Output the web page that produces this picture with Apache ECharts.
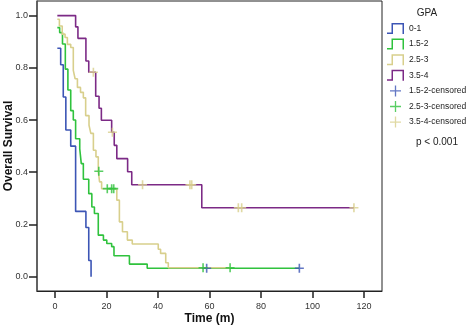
<!DOCTYPE html>
<html>
<head>
<meta charset="utf-8">
<script src="https://cdn.jsdelivr.net/npm/echarts@6/dist/echarts.min.js"></script>
<style>
html,body{margin:0;padding:0;background:#fff;}
#km{width:471px;height:328px;}
</style>
</head>
<body>
<div id="km"></div>
<script>
// survival steps per GPA group (time in months, survival after the step)
var t01 = [0.9, 2.2, 3.2, 4.2, 6.1, 8.0, 12.0, 13.1, 14.0];
var s01 = [0.875, 0.812, 0.688, 0.562, 0.5, 0.25, 0.188, 0.062, 0];

var t152 = [0.9, 1.8, 2.9, 4.0, 5.0, 6.1, 7.1, 8.0, 9.6, 10.2, 11.0, 13.1, 14.3, 15.3, 16.8, 18.8, 20.1, 22.0, 22.9, 28.9, 35.8];
var s152 = [0.954, 0.935, 0.891, 0.795, 0.715, 0.636, 0.600, 0.528, 0.490, 0.433, 0.373, 0.318, 0.267, 0.242, 0.159, 0.140, 0.127, 0.115, 0.080, 0.048, 0.032];

var t253 = [0.9, 1.7, 2.8, 3.9, 4.8, 6.1, 7.1, 7.8, 8.7, 9.9, 11.0, 11.9, 13.2, 13.9, 14.9, 15.9, 16.8, 17.3, 18.1, 24.0, 25.0, 26.2, 28.1, 30.0, 40.1, 41.0, 43.0, 44.0];
var s253 = [0.986, 0.960, 0.929, 0.916, 0.890, 0.878, 0.790, 0.758, 0.725, 0.706, 0.685, 0.617, 0.580, 0.549, 0.484, 0.459, 0.404, 0.363, 0.337, 0.293, 0.210, 0.172, 0.140, 0.125, 0.105, 0.089, 0.053, 0.034];

var t354 = [0.9, 8.0, 8.9, 12.0, 13.1, 15.8, 17.1, 18.0, 22.0, 23.0, 24.0, 28.2, 29.8, 57.0];
var s354 = [1.0, 0.957, 0.913, 0.826, 0.783, 0.691, 0.645, 0.599, 0.553, 0.503, 0.452, 0.402, 0.352, 0.264];

// censored times
var c152 = [58.9, 94.9];
var c253 = [17.0, 20.3, 22.0, 22.8, 57.5, 68.0];
var c354 = [14.9, 22.3, 34.0, 52.4, 53.1, 71.2, 72.5, 116.1];

var xTicks = [0, 20, 40, 60, 80, 100, 120];
var yTicks = [0, 0.2, 0.4, 0.6, 0.8, 1.0];

var groupNames = ['0-1', '1.5-2', '2.5-3', '3.5-4'];
var censNames = ['1.5-2-censored', '2.5-3-censored', '3.5-4-censored'];

var cBlue = '#3c55b5', cGreen = '#2fc23d', cTan = '#d8cf8c', cPurple = '#7c2a86';
var font = 'Liberation Sans, Arial, Helvetica, sans-serif';

var stepIcon = 'path://M0,9.5L4.5,9.5L4.5,0L17,0L17,11L15.5,11L15.5,1.5L6,1.5L6,11L0,11Z';
var plusIcon = 'path://M4.4,0h1.2v10h-1.2z M0,4.4h10v1.2h-10z';
var plusMark = 'path://M4.1,0h1.8v10h-1.8z M0,4.1h10v1.8h-10z';

function survAt(times, vals, t){
	var v = vals[0];
	for(var i = 0;i < times.length;i++){
		if(times[i] <= t) v = vals[i];
	}
	return v;
}
function curve(times, vals, cens){
	var d = times.map(function(t, i){ return [t, vals[i]]; });
	if(cens && cens.length){
		var last = cens[cens.length - 1];
		if(last > times[times.length - 1]) d.push([last, vals[vals.length - 1]]);
	}
	return d;
}
function marks(times, vals, cens){
	return cens.map(function(t){ return [t, survAt(times, vals, t)]; });
}
function lineSeries(name, data, color){
	return {
		name: name, type: 'line', step: 'end', symbol: 'none',
		data: data, color: color,
		lineStyle: {width: 1.6, color: color},
		itemStyle: {color: color},
		emphasis: {disabled: true}
	};
}
function censSeries(name, data, color){
	return {
		name: name, type: 'scatter', symbol: plusMark, symbolSize: 9,
		data: data, color: color, z: 5,
		itemStyle: {color: color},
		emphasis: {disabled: true}
	};
}

var chart = echarts.init(document.getElementById('km'), null, {renderer: 'canvas'});
var option = {
	animation: false,
	backgroundColor: '#fff',
	grid: {
		left: 37, right: 89, top: 1, bottom: 37,
		show: true, borderColor: '#222', borderWidth: 1,
		containLabel: false, outerBoundsMode: 'none'
	},
	xAxis: {
		type: 'value', min: -7, max: 127,
		name: 'Time (m)', nameLocation: 'middle', nameGap: 22, nameMoveOverlap: false,
		nameTextStyle: {fontFamily: font, fontWeight: 'bold', fontSize: 12, color: '#111'},
		splitLine: {show: false},
		axisLine: {show: true, onZero: false, lineStyle: {color: '#222', width: 1}},
		axisTick: {show: true, length: 7, customValues: xTicks, lineStyle: {color: '#222', width: 1.5}},
		axisLabel: {customValues: xTicks, margin: 11, fontFamily: font, fontSize: 9, color: '#333'}
	},
	yAxis: {
		type: 'value', min: -0.055, max: 1.056,
		name: 'Overall Survival', nameLocation: 'middle', nameGap: 22, nameMoveOverlap: false,
		nameTextStyle: {fontFamily: font, fontWeight: 'bold', fontSize: 12, color: '#111'},
		splitLine: {show: false},
		axisLine: {show: true, onZero: false, lineStyle: {color: '#555', width: 1.5}},
		axisTick: {show: true, length: 8, customValues: yTicks, lineStyle: {color: '#222', width: 1.5}},
		axisLabel: {
			customValues: yTicks, margin: 9, fontFamily: font, fontSize: 9, color: '#333',
			formatter: function(v){ return v.toFixed(1); }
		}
	},
	legend: {
		orient: 'vertical', left: 387, top: 23, padding: 0,
		itemWidth: 17, itemHeight: 11, itemGap: 4.6,
		selectedMode: false,
		textStyle: {fontFamily: font, fontSize: 8.5, color: '#222'},
		data: [
			{name: groupNames[0], icon: stepIcon},
			{name: groupNames[1], icon: stepIcon},
			{name: groupNames[2], icon: stepIcon},
			{name: groupNames[3], icon: stepIcon},
			{name: censNames[0], icon: plusIcon},
			{name: censNames[1], icon: plusIcon},
			{name: censNames[2], icon: plusIcon}
		]
	},
	graphic: [
		{type: 'text', style: {text: 'GPA', x: 427, y: 13, align: 'center', verticalAlign: 'middle', font: '10px ' + font, fill: '#222'}},
		{type: 'text', style: {text: 'p < 0.001', x: 437, y: 142, align: 'center', verticalAlign: 'middle', font: '10px ' + font, fill: '#222'}}
	],
	series: [
		lineSeries(groupNames[0], curve(t01, s01, []), cBlue),
		lineSeries(groupNames[1], curve(t152, s152, c152), cGreen),
		lineSeries(groupNames[2], curve(t253, s253, c253), cTan),
		lineSeries(groupNames[3], curve(t354, s354, c354), cPurple),
		censSeries(censNames[0], marks(t152, s152, c152), cBlue),
		censSeries(censNames[1], marks(t253, s253, c253), cGreen),
		censSeries(censNames[2], marks(t354, s354, c354), cTan)
	]
};
chart.setOption(option);
</script>
</body>
</html>
